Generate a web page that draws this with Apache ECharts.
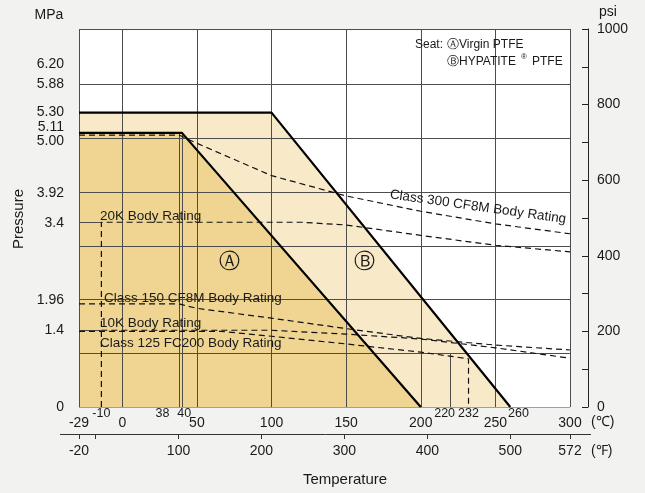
<!DOCTYPE html>
<html>
<head>
<meta charset="utf-8">
<script src="https://cdn.jsdelivr.net/npm/echarts@6/dist/echarts.min.js"></script>
<style>
  html, body { margin: 0; padding: 0; background: #f2f2f1; }
  #chart { width: 645px; height: 493px; }
</style>
</head>
<body>
<div id="chart"></div>
<script>
// temperature in ℃, pressure in MPa (the -10 line sits where the drawing puts it)
const seatA = [[-29, 5.0], [40, 5.0], [200, 0]];
const seatB = [[-29, 5.37], [100, 5.37], [260, 0]];
const class300 = [[-29, 4.96], [38, 4.96], [50, 4.81], [100, 4.22], [150, 3.85], [200, 3.57], [250, 3.34], [300, 3.16]];
const rating20K = [[-14, 0], [-14, 3.37], [120, 3.37], [150, 3.32], [200, 3.13], [250, 2.95], [300, 2.83]];
const class150 = [[-29, 1.88], [38, 1.88], [50, 1.8], [100, 1.62], [150, 1.43], [200, 1.25], [250, 1.13], [300, 1.04]];
const rating10K = [[-14, 1.4], [100, 1.4], [150, 1.33], [200, 1.24], [250, 1.08], [300, 0.89]];
const class125 = [[-29, 1.38], [66, 1.38], [100, 1.29], [150, 1.15], [200, 1.0], [232, 0.88], [232, 0]];

// grid lines
const tempGrid = [0, 50, 100, 150, 200, 250];
const pressGrid = [0.98, 1.96, 2.94, 3.92, 4.90, 5.88];

// tick labels
const cTicks = [-29, 0, 50, 100, 150, 200, 250, 300];
const cExtra = ['-10', '38', '40', '220', '232', '260'];
const cExtraAt = [-14, 27, 41.5, 216, 232, 265.5];
const fTicks = [-20, 100, 200, 300, 400, 500, 572];
const psiTicks = [0, 200, 400, 600, 800, 1000];
const mpaLabels = ['0', '1.4', '1.96', '3.4', '3.92', '5.00', '5.11', '5.30', '5.88', '6.20'];
const mpaAt = [0, 1.4, 1.94, 3.35, 3.9, 4.85, 5.11, 5.38, 5.89, 6.26];

const T_MIN = -29, T_MAX = 300;
const P_MAX = 1000 / 145.04;
const FONT = 'Liberation Sans, Arial, sans-serif';

let segs = [];
tempGrid.forEach(t => segs.push({ coords: [[t, 0], [t, P_MAX]] }));
pressGrid.forEach(p => segs.push({ coords: [[T_MIN, p], [T_MAX, p]] }));
[38, 40].forEach(t => segs.push({ coords: [[t, 0], [t, 5.0]] }));
segs.push({ coords: [[220, 0], [220, 0.98]] });
[3.37, 1.4].forEach(p => segs.push({ coords: [[T_MIN, p], [-14, p]] }));
// frame
segs.push({ coords: [[T_MIN, 0], [T_MIN, P_MAX]] });
segs.push({ coords: [[T_MAX, 0], [T_MAX, P_MAX]] });
segs.push({ coords: [[T_MIN, P_MAX], [T_MAX, P_MAX]] });
segs.push({ coords: [[T_MIN, 0], [T_MAX, 0]] });

function dashed(data) {
  return {
    type: 'line', data: data, symbol: 'none', z: 4, silent: true,
    lineStyle: { color: '#111', width: 1.2, type: [6, 4] }
  };
}

function txt(x, y, s, size, extra) {
  return Object.assign({
    type: 'text', x: x, y: y, z: 10,
    style: { text: s, font: size + 'px ' + FONT, fill: '#1a1a1a', align: 'left', verticalAlign: 'middle' }
  }, extra || {});
}

function ctxt(x, y, s, size, font) {
  return {
    type: 'text', x: x, y: y, z: 10,
    style: { text: s, font: size + 'px ' + (font || FONT), fill: '#1a1a1a', align: 'center', verticalAlign: 'middle' }
  };
}

const chart = echarts.init(document.getElementById('chart'));
chart.setOption({
  animation: false,
  backgroundColor: '#f2f2f1',
  textStyle: { fontFamily: FONT },
  grid: { left: 79, top: 29, width: 491, height: 378, show: true, backgroundColor: '#fff', borderWidth: 0 },
  xAxis: [
    {
      type: 'value', min: T_MIN, max: T_MAX, position: 'bottom',
      axisLine: { show: false, onZero: false }, axisTick: { show: false }, splitLine: { show: false },
      axisLabel: { customValues: cTicks, margin: 9, fontSize: 14, color: '#1a1a1a' }
    },
    {
      type: 'value', min: T_MIN, max: T_MAX, position: 'bottom',
      axisLine: { show: false, onZero: false }, axisTick: { show: false }, splitLine: { show: false },
      axisLabel: {
        customValues: cExtraAt, margin: 0, fontSize: 12.5, color: '#1a1a1a',
        formatter: v => cExtra[cExtraAt.indexOf(v)]
      }
    },
    {
      type: 'value', min: -20, max: 572, position: 'bottom', offset: 27,
      axisLine: { show: false, onZero: false }, splitLine: { show: false },
      axisTick: { show: true, customValues: [-20, 0, 100, 200, 300, 400, 500, 572], length: 5, lineStyle: { color: '#333' } },
      axisLabel: { customValues: fTicks, margin: 10, fontSize: 14, color: '#1a1a1a' }
    }
  ],
  yAxis: [
    {
      type: 'value', min: 0, max: P_MAX, position: 'left',
      axisLine: { show: false, onZero: false }, axisTick: { show: false }, splitLine: { show: false },
      axisLabel: {
        customValues: mpaAt, margin: 15, fontSize: 14, color: '#1a1a1a',
        formatter: v => mpaLabels[mpaAt.indexOf(v)]
      }
    },
    {
      type: 'value', min: 0, max: 1000, position: 'right', offset: 18,
      axisLine: { show: true, onZero: false, lineStyle: { color: '#222' } },
      axisTick: { show: true, inside: true, length: 6, customValues: [0, 100, 200, 300, 400, 500, 600, 700, 800, 900, 1000], lineStyle: { color: '#222' } },
      splitLine: { show: false },
      axisLabel: { customValues: psiTicks, margin: 9, fontSize: 14, color: '#1a1a1a', formatter: v => String(v) }
    }
  ],
  series: [
    {
      type: 'line', data: seatB, symbol: 'none', z: 1, silent: true,
      lineStyle: { opacity: 0 }, areaStyle: { color: '#f8e9c9', opacity: 1 }
    },
    {
      type: 'line', data: seatA, symbol: 'none', z: 1, silent: true,
      lineStyle: { opacity: 0 }, areaStyle: { color: '#efd591', opacity: 1 }
    },
    {
      type: 'lines', coordinateSystem: 'cartesian2d', data: segs, z: 2, silent: true,
      lineStyle: { color: '#4d4d4d', width: 1, opacity: 1 }
    },
    dashed(class300),
    dashed(rating20K),
    dashed(class150),
    dashed(rating10K),
    dashed(class125),
    {
      type: 'line', data: seatB, symbol: 'none', z: 5, silent: true,
      lineStyle: { color: '#000', width: 2.2 }
    },
    {
      type: 'line', data: seatA, symbol: 'none', z: 5, silent: true,
      lineStyle: { color: '#000', width: 2.2 }
    }
  ],
  graphic: [
    ctxt(49, 15, 'MPa', 14),
    ctxt(608, 12, 'psi', 14),
    Object.assign(ctxt(19, 219, 'Pressure', 15), { rotation: Math.PI / 2 }),
    ctxt(345, 480, 'Temperature', 15),
    txt(591, 422, '(℃)', 14),
    txt(591, 451, '(℉)', 14),
    { type: 'line', shape: { x1: 60, y1: 434.5, x2: 591, y2: 434.5 }, style: { stroke: '#333', lineWidth: 1 } },
    ctxt(229, 263, 'Ⓐ', 21, 'DejaVu Sans'),
    ctxt(364, 263, 'Ⓑ', 21, 'DejaVu Sans'),
    txt(415, 45, 'Seat:', 12),
    txt(447, 45, 'ⒶVirgin PTFE', 12),
    txt(447, 62, 'ⒷHYPATITE', 12),
    txt(521, 57, '®', 8),
    txt(532, 62, 'PTFE', 12),
    txt(100, 216, '20K Body Rating', 13.5),
    txt(104, 298, 'Class 150 CF8M Body Rating', 13.5),
    txt(100, 323, '10K Body Rating', 13.5),
    txt(100, 343, 'Class 125 FC200 Body Rating', 13.5),
    Object.assign(ctxt(478, 207, 'Class 300 CF8M Body Rating', 13.5), { rotation: -8 * Math.PI / 180 })
  ]
});
</script>
</body>
</html>
